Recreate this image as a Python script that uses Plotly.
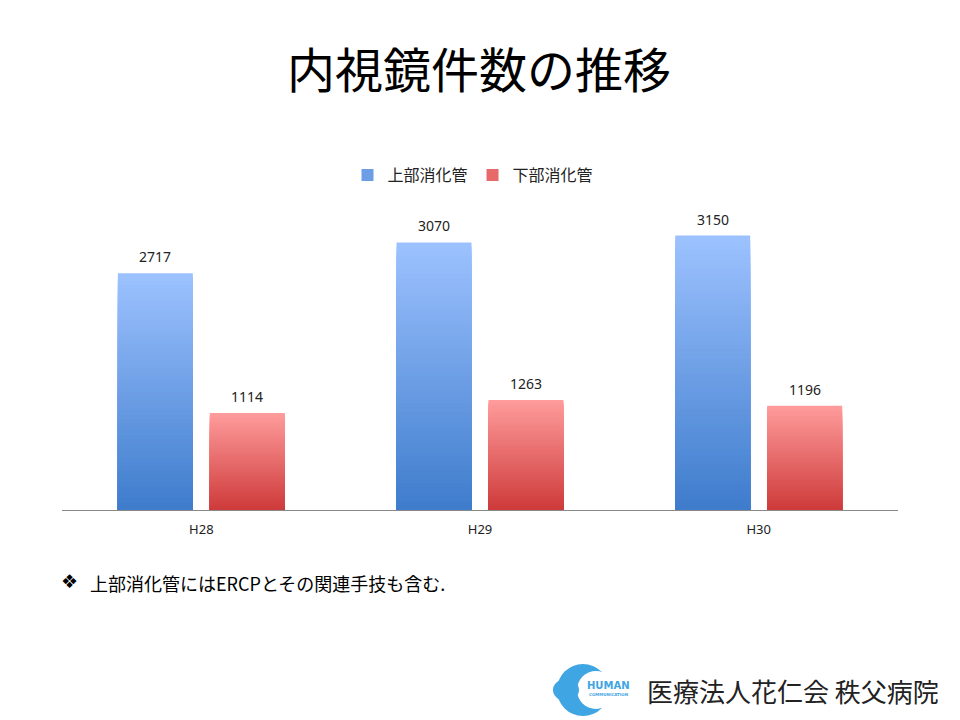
import plotly.graph_objects as go

# ---- data ----
categories = ["H28", "H29", "H30"]
upper_gi = [2717, 3070, 3150]
lower_gi = [1114, 1263, 1196]
series_names = ["上部消化管", "下部消化管"]
title_text = "内視鏡件数の推移"
note_text = "上部消化管にはERCPとその関連手技も含む."
org_text = "医療法人花仁会 秩父病院"

# ---- style ----
W, H = 960, 720
ML, MR, MT, MB = 62, 62, 205, 210
PW, PH = W - ML - MR, H - MT - MB
N_SEG = 60
BLUE_TOP, BLUE_BOT = (157, 194, 255), (62, 124, 204)
RED_TOP, RED_BOT = (255, 156, 156), (206, 58, 58)
CJK = "Noto Sans CJK JP"
GROUP_SHIFT = 46  # px offset of each bar centre from category centre


def px(xp):
    return (xp - ML) / PW


def py(yp):
    return (H - MB - yp) / PH


def lerp(c1, c2, t):
    return "rgb({},{},{})".format(*[round(a + (b - a) * t) for a, b in zip(c1, c2)])


fig = go.Figure()
annotations = []
for name, vals, top, bot, grp, shift in [
    (series_names[0], upper_gi, BLUE_TOP, BLUE_BOT, "u", -GROUP_SHIFT),
    (series_names[1], lower_gi, RED_TOP, RED_BOT, "l", GROUP_SHIFT),
]:
    for i in range(N_SEG):
        frac = (N_SEG - i) / N_SEG
        t = (N_SEG - i - 0.5) / N_SEG
        fig.add_trace(go.Bar(
            x=categories, y=[v * frac for v in vals], offsetgroup=grp,
            marker=dict(color=lerp(bot, top, t), line_width=0),
            name=name, legendgroup=grp, showlegend=(i == N_SEG // 2),
            hoverinfo="skip",
        ))
    for c, v in zip(categories, vals):
        annotations.append(dict(
            x=c, y=v, xref="x", yref="y", text=str(v), showarrow=False,
            xanchor="center", yanchor="bottom", xshift=shift, yshift=5,
            font=dict(family="Noto Sans", size=14, color="#222"),
        ))


shapes = []


def circ(cx, cy, rx, ry, color):
    return dict(type="circle", xref="paper", yref="paper",
                x0=px(cx - rx), x1=px(cx + rx), y0=py(cy + ry), y1=py(cy - ry),
                fillcolor=color, line_width=0, layer="above")


LOGO = "#3FA5E3"
shapes.append(circ(583, 690, 26, 26, LOGO))
shapes.append(circ(596, 690, 19, 19, "white"))
shapes.append(circ(566, 690, 13, 11, LOGO))

annotations += [
    dict(text=title_text, x=px(479), xref="paper", y=py(67), yref="paper",
         xanchor="center", yanchor="middle", showarrow=False,
         font=dict(family=CJK, size=48, color="black")),
    dict(text="❖", x=px(69), xref="paper", y=py(581), yref="paper",
         xanchor="center", yanchor="middle", showarrow=False,
         font=dict(family="DejaVu Sans", size=19, color="black")),
    dict(text=note_text, x=px(88), xref="paper", y=py(583), yref="paper",
         xanchor="left", yanchor="middle", showarrow=False,
         font=dict(family=CJK, size=18, color="black")),
    dict(text="<b>HUMAN</b>", x=px(608), xref="paper", y=py(685), yref="paper",
         xanchor="center", yanchor="middle", showarrow=False,
         font=dict(family="DejaVu Sans", size=10, color=LOGO)),
    dict(text="<b>COMMUNICATION</b>", x=px(608), xref="paper", y=py(694), yref="paper",
         xanchor="center", yanchor="middle", showarrow=False,
         font=dict(family="DejaVu Sans", size=4, color=LOGO)),
    dict(text=org_text, x=px(793), xref="paper", y=py(690), yref="paper",
         xanchor="center", yanchor="middle", showarrow=False,
         font=dict(family=CJK, size=26, color="#222")),
]

fig.update_layout(
    width=W, height=H,
    margin=dict(l=ML, r=MR, t=MT, b=MB),
    paper_bgcolor="white", plot_bgcolor="white",
    barmode="group", bargap=0.34, bargroupgap=0.185,
    showlegend=True,
    legend=dict(orientation="h", x=px(473), xanchor="center", y=py(175), yanchor="middle",
                font=dict(family=CJK, size=16, color="#222"), itemwidth=30,
                bgcolor="rgba(0,0,0,0)"),
    xaxis=dict(showline=True, linecolor="#8a8a8a", linewidth=1, ticks="",
               showgrid=False, zeroline=False, ticklabelstandoff=7,
               tickfont=dict(family="Noto Sans", size=13, color="#222"),
               fixedrange=True),
    yaxis=dict(range=[0, 3500], visible=False, showgrid=False, zeroline=False),
    shapes=shapes, annotations=annotations,
)

fig.write_html("out.html")
